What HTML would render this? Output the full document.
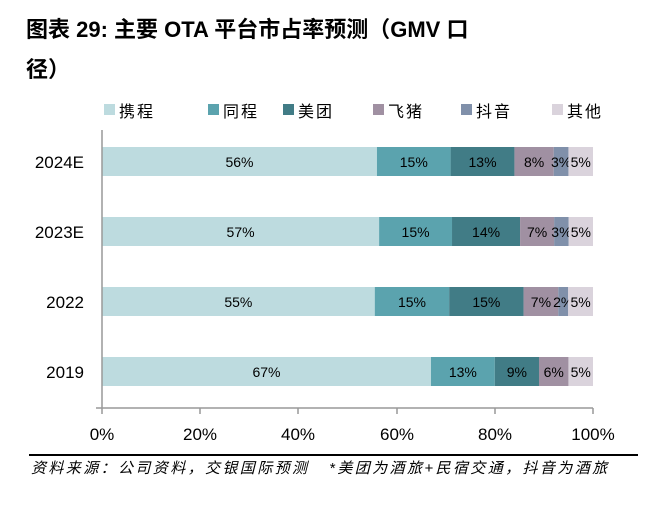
<!DOCTYPE html><html><head><meta charset="utf-8"><style>
body{margin:0;width:670px;height:514px;background:#fff;position:relative;overflow:hidden;font-family:"Liberation Sans","Noto Sans CJK SC",sans-serif;}
.t{position:absolute;left:26px;font-weight:bold;font-size:22px;color:#000;}
.a{position:absolute;}
</style></head><body>
<div class="t" style="top:12px">图表 29: 主要 OTA 平台市占率预测（GMV 口</div>
<div class="t" style="top:52px">径）</div>
<svg class="a" style="left:0;top:0" width="670" height="514" font-family="Liberation Sans, Noto Sans CJK SC, sans-serif">
<g font-size="16" fill="#000" letter-spacing="2">
<rect x="104" y="104" width="11" height="11" fill="#BDDBDF"/><text x="119" y="117">携程</text>
<rect x="208" y="104" width="11" height="11" fill="#5BA3AE"/><text x="223" y="117">同程</text>
<rect x="283" y="104" width="11" height="11" fill="#417C86"/><text x="298" y="117">美团</text>
<rect x="373" y="104" width="11" height="11" fill="#A090A2"/><text x="388" y="117">飞猪</text>
<rect x="461" y="104" width="11" height="11" fill="#8090AA"/><text x="476" y="117">抖音</text>
<rect x="552" y="104" width="11" height="11" fill="#DAD3DC"/><text x="567" y="117">其他</text>
</g>
<g id="bars"></g>
<line x1="102" y1="130" x2="102" y2="408" stroke="#999" stroke-width="1.5"/>
<line x1="96" y1="408" x2="593" y2="408" stroke="#999" stroke-width="1.5"/>
<g stroke="#999" stroke-width="1.5">
<line x1="102" y1="408" x2="102" y2="414"/><line x1="200" y1="408" x2="200" y2="414"/><line x1="298" y1="408" x2="298" y2="414"/><line x1="397" y1="408" x2="397" y2="414"/><line x1="495" y1="408" x2="495" y2="414"/><line x1="593" y1="408" x2="593" y2="414"/>
</g>
<g font-size="17" fill="#000" text-anchor="middle">
<text x="102" y="440">0%</text><text x="200" y="440">20%</text><text x="298" y="440">40%</text><text x="397" y="440">60%</text><text x="495" y="440">80%</text><text x="593" y="440">100%</text>
</g>
<g font-size="17" fill="#000" text-anchor="end">
<text x="84" y="168">2024E</text><text x="84" y="238">2023E</text><text x="84" y="308">2022</text><text x="84" y="378">2019</text>
</g>
<line x1="29" y1="455" x2="638" y2="455" stroke="#000" stroke-width="2"/>
<text x="31" y="473" font-size="15" font-style="italic" fill="#000" letter-spacing="2.4" xml:space="preserve">资料来源：公司资料，交银国际预测   *美团为酒旅+民宿交通，抖音为酒旅</text>
</svg>
<script>
var C=["#BDDBDF","#5BA3AE","#417C86","#A090A2","#8090AA","#DAD3DC"];
var D=[[147,[56,15,13,8,3,5]],[217,[57,15,14,7,3,5]],[287,[55,15,15,7,2,5]],[357,[67,13,9,6,0,5]]];
var g=document.getElementById("bars"),s="";
D.forEach(function(r){var v=r[1],t=v.reduce(function(a,b){return a+b}),x=102,W=491;
v.forEach(function(p,i){if(!p)return;var w=p/t*W;s+='<rect x="'+x+'" y="'+r[0]+'" width="'+w+'" height="29" fill="'+C[i]+'"/>';
s+='<text x="'+(x+w/2)+'" y="'+(r[0]+20)+'" font-size="14" text-anchor="middle" fill="#000">'+p+'%</text>';x+=w;});});
g.innerHTML=s;
</script>
</body></html>
